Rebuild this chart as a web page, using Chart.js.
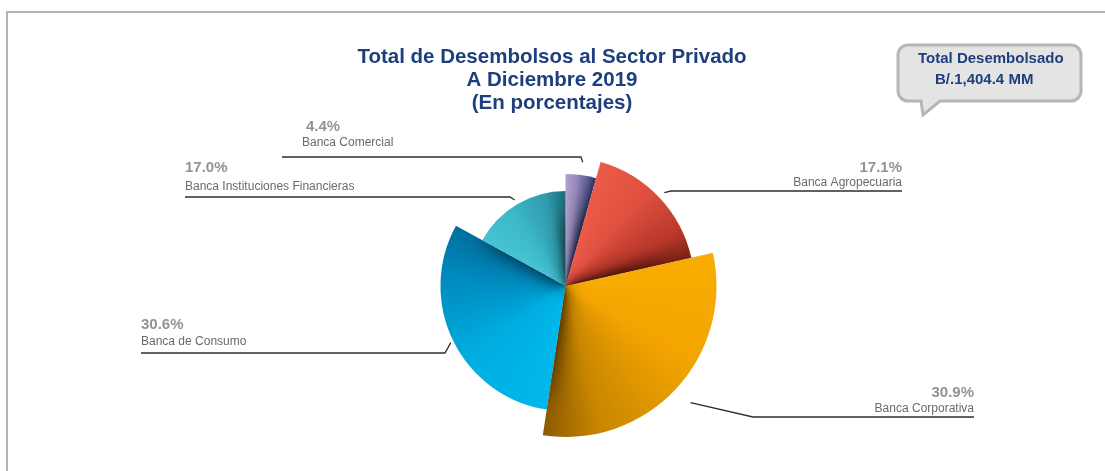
<!DOCTYPE html>
<html>
<head>
<meta charset="utf-8">
<script src="https://cdn.jsdelivr.net/npm/chart.js@4.4.0/dist/chart.umd.min.js"></script>
<style>
    html, body { margin: 0; padding: 0; background: #fff; overflow: hidden; }
    canvas { display: block; }
</style>
</head>
<body>
<canvas id="pie" width="1105" height="471"></canvas>
<script>
const categories = ['Banca Comercial', 'Banca Agropecuaria', 'Banca Corporativa', 'Banca de Consumo', 'Banca Instituciones Financieras'];
const shares = [4.4, 17.1, 30.9, 30.6, 17.0];
const titleLines = ['Total de Desembolsos al Sector Privado', 'A Diciembre 2019', '(En porcentajes)'];
const totalLines = ['Total Desembolsado', 'B/.1,404.4 MM'];

// estilo: radio de cada porcion y degradado claro -> oscuro en sentido horario
const sliceRadius = [112, 129, 151, 125, 95];
const sliceStops = [
    ['#b2a1d0', '#9486b8', '#525485', '#2b3163'],
    ['#ec5b4a', '#e0503f', '#b8382a', '#7a2015'],
    ['#f8ac00', '#f3a400', '#c98700', '#8d5b00'],
    ['#00b8ec', '#00aee2', '#0088bb', '#006f9e'],
    ['#47c3d6', '#3cb8cb', '#2f9bac', '#1d6a76']
];
const leaders = [
    {gap: 13, elbow: [581, 157], end: [282, 157], pctX: 306, nameX: 302, pctY: 127, nameY: 143, align: 'left'},
    {gap: 7, elbow: [671, 191], end: [902, 191], pctX: 902, nameX: 902, pctY: 168, nameY: 183, align: 'right'},
    {gap: 20, elbow: [753, 417], end: [974, 417], pctX: 974, nameX: 974, pctY: 393, nameY: 409, align: 'right'},
    {gap: 3, elbow: [445, 353], end: [141, 353], pctX: 141, nameX: 141, pctY: 325, nameY: 342, align: 'left'},
    {gap: 5, elbow: [510, 197], end: [185, 197], pctX: 185, nameX: 185, pctY: 168, nameY: 187, align: 'left'}
];
const FONT = '"Liberation Sans", Arial, sans-serif';

function sliceFill(context) {
    const chart = context.chart;
    const area = chart.chartArea;
    const i = context.dataIndex;
    if (!area || i === undefined) return sliceStops[i || 0][1];
    const total = shares.reduce((a, b) => a + b, 0);
    let before = 0;
    for (let k = 0; k < i; k++) before += shares[k];
    const start = -Math.PI / 2 + 2 * Math.PI * before / total;
    const part = shares[i] / total;
    const cx = (area.left + area.right) / 2;
    const cy = (area.top + area.bottom) / 2;
    const g = chart.ctx.createConicGradient(start, cx, cy);
    const stops = sliceStops[i];
    g.addColorStop(0, stops[0]);
    g.addColorStop(part * 0.4, stops[1]);
    g.addColorStop(part * 0.8, stops[2]);
    g.addColorStop(part, stops[3]);
    g.addColorStop(1, stops[3]);
    return g;
}

// marco gris arriba y a la izquierda
const framePlugin = {
    id: 'frame',
    beforeDraw(chart) {
        const ctx = chart.ctx;
        ctx.save();
        ctx.beginPath();
        ctx.moveTo(7, chart.height);
        ctx.lineTo(7, 12);
        ctx.lineTo(chart.width, 12);
        ctx.strokeStyle = '#b2b2b2';
        ctx.lineWidth = 2;
        ctx.stroke();
        ctx.restore();
    }
};

const sliceRadiusPlugin = {
    id: 'sliceRadius',
    afterDatasetsUpdate(chart) {
        chart.getDatasetMeta(0).data.forEach((arc, i) => {
            arc.outerRadius = sliceRadius[i];
        });
    }
};

// sombra suave junto al borde final de cada porcion, mas fuerte cerca del centro
const shadePlugin = {
    id: 'shade',
    afterDatasetsDraw(chart) {
        const arcs = chart.getDatasetMeta(0).data;
        const ctx = chart.ctx;
        arcs.forEach((arc) => {
            const cx = arc.x, cy = arc.y, R = arc.outerRadius;
            const e = arc.endAngle;
            const ux = Math.cos(e), uy = Math.sin(e);
            const nx = -Math.sin(e), ny = Math.cos(e);
            ctx.save();
            ctx.beginPath();
            ctx.moveTo(cx, cy);
            ctx.arc(cx, cy, R, arc.startAngle, arc.endAngle);
            ctx.closePath();
            ctx.clip();
            ctx.shadowColor = 'rgba(0,0,0,0.65)';
            ctx.shadowBlur = 18;
            ctx.shadowOffsetX = 3000;
            ctx.translate(-3000, 0);
            ctx.beginPath();
            ctx.moveTo(cx - ux * 10, cy - uy * 10);
            ctx.lineTo(cx + ux * R * 0.8, cy + uy * R * 0.8);
            ctx.lineTo(cx + nx * 40 + ux * 15, cy + ny * 40 + uy * 15);
            ctx.closePath();
            ctx.fillStyle = '#000';
            ctx.fill();
            ctx.restore();
        });
    }
};

const labelsPlugin = {
    id: 'labels',
    afterDraw(chart) {
        const ctx = chart.ctx;
        ctx.save();
        ctx.textBaseline = 'middle';

        // titulo
        ctx.fillStyle = '#1f3f7c';
        ctx.textAlign = 'center';
        ctx.font = 'bold 20.5px ' + FONT;
        titleLines.forEach((t, k) => ctx.fillText(t, 552, 57 + k * 23));

        // globo con el total
        const x0 = 898, x1 = 1081, y0 = 45, y1 = 101, r = 10;
        ctx.beginPath();
        ctx.moveTo(x0 + r, y0);
        ctx.lineTo(x1 - r, y0);
        ctx.arcTo(x1, y0, x1, y0 + r, r);
        ctx.lineTo(x1, y1 - r);
        ctx.arcTo(x1, y1, x1 - r, y1, r);
        ctx.lineTo(940, y1);
        ctx.lineTo(923, 115);
        ctx.lineTo(921, y1);
        ctx.lineTo(x0 + r, y1);
        ctx.arcTo(x0, y1, x0, y1 - r, r);
        ctx.lineTo(x0, y0 + r);
        ctx.arcTo(x0, y0, x0 + r, y0, r);
        ctx.closePath();
        ctx.fillStyle = '#e4e4e4';
        ctx.fill();
        ctx.strokeStyle = '#b6b6b6';
        ctx.lineWidth = 3;
        ctx.stroke();
        ctx.fillStyle = '#1f3f7c';
        ctx.textAlign = 'left';
        ctx.font = 'bold 15px ' + FONT;
        ctx.fillText(totalLines[0], 918, 59);
        ctx.fillText(totalLines[1], 935, 80);

        // lineas guia y etiquetas
        const meta = chart.getDatasetMeta(0);
        leaders.forEach((l, i) => {
            const arc = meta.data[i];
            const mid = (arc.startAngle + arc.endAngle) / 2;
            const rr = arc.outerRadius + l.gap;
            ctx.beginPath();
            ctx.moveTo(arc.x + rr * Math.cos(mid), arc.y + rr * Math.sin(mid));
            ctx.lineTo(l.elbow[0], l.elbow[1]);
            ctx.lineTo(l.end[0], l.end[1]);
            ctx.strokeStyle = '#2e2e2e';
            ctx.lineWidth = 1.3;
            ctx.stroke();

            ctx.textAlign = l.align;
            ctx.fillStyle = '#939393';
            ctx.font = 'bold 15px ' + FONT;
            ctx.fillText(shares[i].toFixed(1) + '%', l.pctX, l.pctY);
            ctx.fillStyle = '#6a6a6a';
            ctx.font = '12px ' + FONT;
            ctx.fillText(categories[i], l.nameX, l.nameY);
        });
        ctx.restore();
    }
};

new Chart(document.getElementById('pie'), {
    type: 'pie',
    data: {
        labels: categories,
        datasets: [{
            data: shares,
            backgroundColor: sliceFill,
            borderWidth: 0,
            radius: 151,
            hoverOffset: 0
        }]
    },
    options: {
        responsive: false,
        animation: false,
        events: [],
        layout: {padding: {left: 26, right: 0, top: 101, bottom: 0}},
        plugins: {
            legend: {display: false},
            tooltip: {enabled: false}
        }
    },
    plugins: [framePlugin, sliceRadiusPlugin, shadePlugin, labelsPlugin]
});
</script>
</body>
</html>
